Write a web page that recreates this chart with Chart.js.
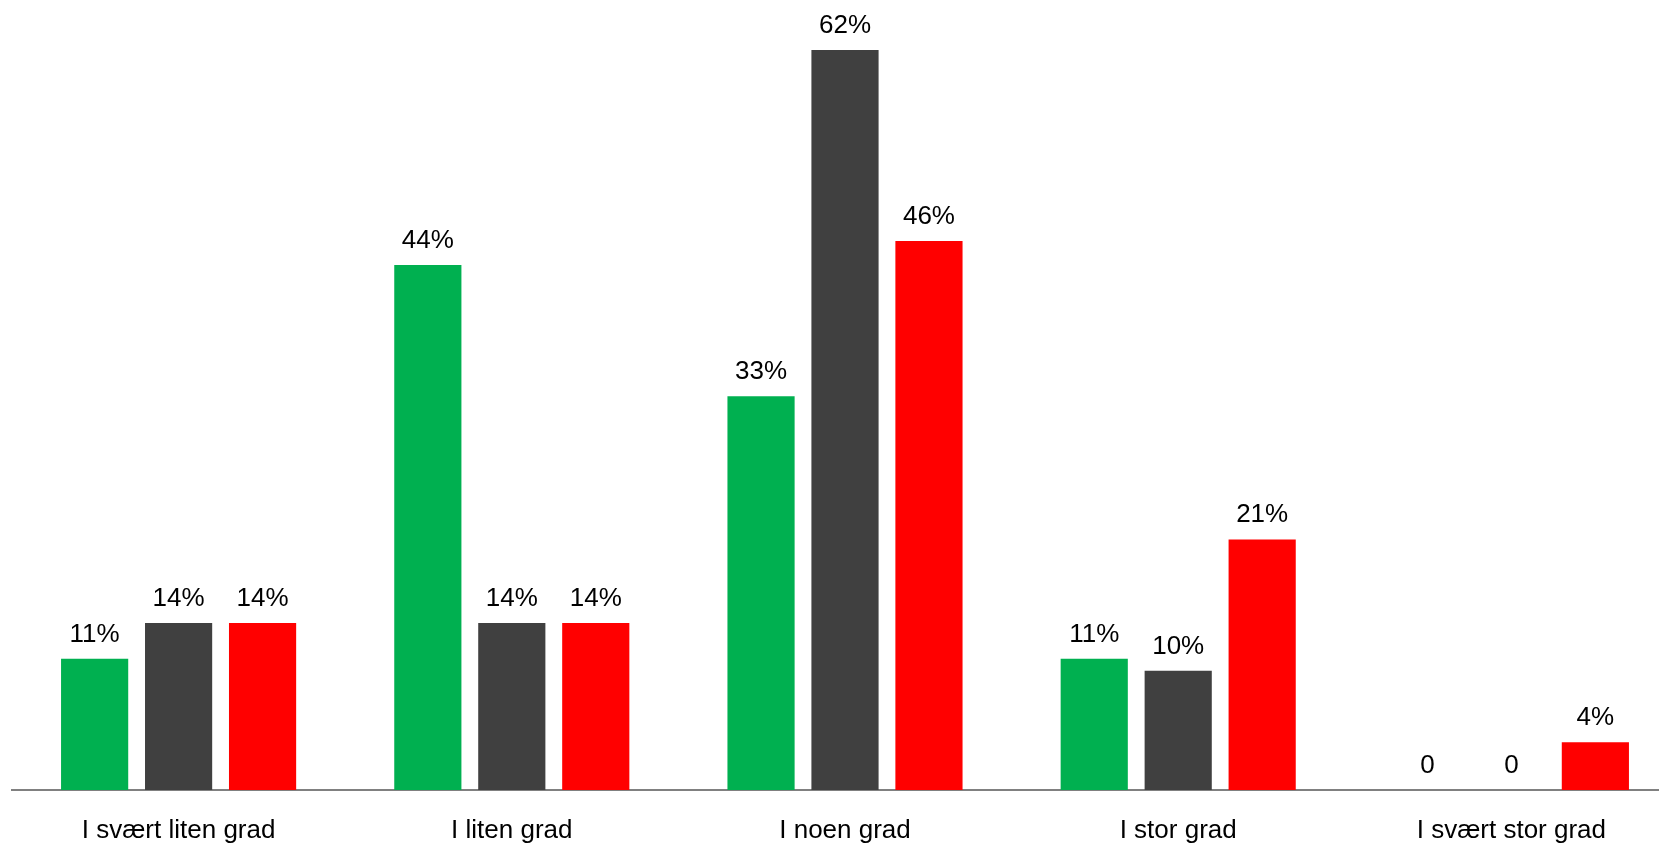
<!DOCTYPE html>
<html>
<head>
<meta charset="utf-8">
<script src="https://cdn.jsdelivr.net/npm/chart.js@4/dist/chart.umd.min.js"></script>
<style>
  html, body { margin: 0; padding: 0; background: #fff; overflow: hidden; }
  #wrap { width: 1678px; height: 844px; }
</style>
</head>
<body>
<div id="wrap"><canvas id="c" width="1678" height="844"></canvas></div>
<script>
const categories = ['I svært liten grad', 'I liten grad', 'I noen grad', 'I stor grad', 'I svært stor grad'];
const seriesGreen = [11, 44, 33, 11, 0];
const seriesDark  = [14, 14, 62, 10, 0];
const seriesRed   = [14, 14, 46, 21, 4];
const yMax = 66.2;

const valueLabels = {
  id: 'valueLabels',
  afterDatasetsDraw(chart) {
    const ctx = chart.ctx;
    ctx.save();
    ctx.font = '26px "Liberation Sans", Arial, sans-serif';
    ctx.fillStyle = '#000000';
    ctx.textAlign = 'center';
    ctx.textBaseline = 'alphabetic';
    chart.data.datasets.forEach((ds, i) => {
      const meta = chart.getDatasetMeta(i);
      meta.data.forEach((bar, j) => {
        const v = ds.data[j];
        const txt = v === 0 ? '0' : v + '%';
        ctx.fillText(txt, bar.x, bar.y - 17);
      });
    });
    ctx.restore();
  }
};

new Chart(document.getElementById('c'), {
  type: 'bar',
  data: {
    labels: categories,
    datasets: [
      { data: seriesGreen, backgroundColor: '#00B050' },
      { data: seriesDark, backgroundColor: '#404040' },
      { data: seriesRed, backgroundColor: '#FF0000' }
    ]
  },
  options: {
    responsive: false,
    animation: false,
    devicePixelRatio: 1,
    layout: { padding: { left: 12, right: 0, top: 0, bottom: 0 } },
    datasets: { bar: { categoryPercentage: 0.756, barPercentage: 0.8 } },
    plugins: { legend: { display: false }, tooltip: { enabled: false } },
    scales: {
      x: {
        grid: { display: false, drawTicks: false },
        border: { display: true, color: '#808080', width: 2 },
        ticks: {
          color: '#000000',
          padding: 25,
          font: { family: '"Liberation Sans", Arial, sans-serif', size: 26 },
          maxRotation: 0, autoSkip: false
        },
        afterFit(scale) { scale.height = 54; }
      },
      y: {
        display: false,
        min: 0,
        max: yMax
      }
    }
  },
  plugins: [valueLabels]
});
</script>
</body>
</html>
